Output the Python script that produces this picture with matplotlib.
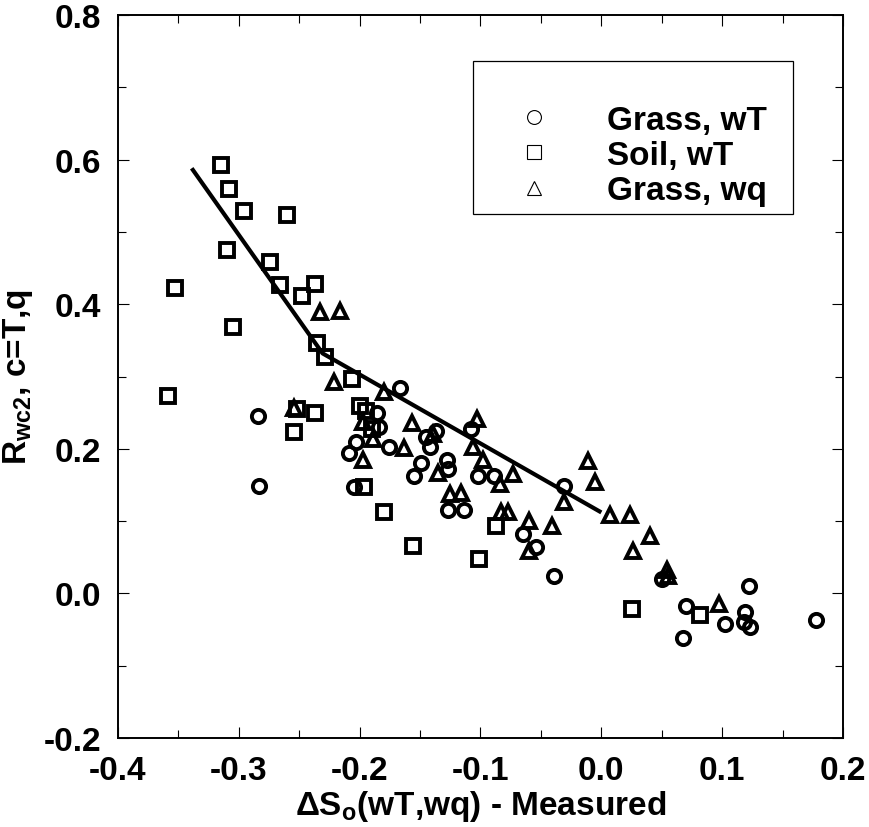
import matplotlib
matplotlib.use("Agg")
import matplotlib.pyplot as plt
from matplotlib import font_manager
from matplotlib.lines import Line2D
from matplotlib.patches import Rectangle
from matplotlib.ticker import MultipleLocator

names = {f.name for f in font_manager.fontManager.ttflist}
FONT = "Liberation Sans" if "Liberation Sans" in names else "DejaVu Sans"

plt.rcParams["mathtext.fontset"] = "custom"
plt.rcParams["mathtext.rm"] = FONT + ":bold"
plt.rcParams["mathtext.bf"] = FONT + ":bold"
plt.rcParams["mathtext.it"] = FONT + ":bold"
plt.rcParams["font.family"] = [FONT, "DejaVu Sans"]
plt.rcParams["font.weight"] = "bold"

# Grass, wT (circles)
grass_wT_x = [-0.284, -0.283, -0.167, -0.205, -0.203, -0.209, -0.186, -0.184, -0.176,
              -0.145, -0.137, -0.142, -0.149, -0.155, -0.128, -0.127, -0.108, -0.102,
              -0.089, -0.127, -0.114, -0.065, -0.054, -0.039, -0.031, 0.050, 0.070,
              0.068, 0.102, 0.122, 0.119, 0.118, 0.123, 0.178]
grass_wT_y = [0.246, 0.148, 0.284, 0.147, 0.210, 0.194, 0.250, 0.230, 0.202,
              0.217, 0.224, 0.203, 0.181, 0.162, 0.185, 0.172, 0.227, 0.162,
              0.162, 0.116, 0.116, 0.082, 0.064, 0.024, 0.149, 0.020, -0.018,
              -0.062, -0.042, 0.010, -0.026, -0.039, -0.046, -0.037]

# Soil, wT (squares)
soil_wT_x = [-0.315, -0.308, -0.296, -0.260, -0.310, -0.274, -0.266, -0.248, -0.237,
             -0.353, -0.305, -0.235, -0.229, -0.206, -0.359, -0.252, -0.237, -0.254,
             -0.200, -0.195, -0.190, -0.196, -0.180, -0.156, -0.101, -0.087, 0.025, 0.082]
soil_wT_y = [0.592, 0.559, 0.529, 0.524, 0.475, 0.459, 0.426, 0.412, 0.428,
             0.423, 0.368, 0.347, 0.327, 0.297, 0.273, 0.255, 0.250, 0.223,
             0.259, 0.252, 0.227, 0.147, 0.113, 0.066, 0.047, 0.093, -0.022, -0.030]

# Grass, wq (triangles)
grass_wq_x = [-0.233, -0.216, -0.221, -0.254, -0.180, -0.197, -0.189, -0.197, -0.157,
              -0.139, -0.163, -0.135, -0.125, -0.116, -0.103, -0.106, -0.098, -0.084,
              -0.073, -0.083, -0.077, -0.060, -0.041, -0.060, -0.011, -0.005, -0.031,
              0.007, 0.024, 0.040, 0.026, 0.054, 0.055, 0.097]
grass_wq_y = [0.389, 0.390, 0.292, 0.257, 0.278, 0.237, 0.213, 0.185, 0.235,
              0.220, 0.201, 0.167, 0.137, 0.139, 0.241, 0.202, 0.185, 0.151,
              0.165, 0.113, 0.112, 0.100, 0.093, 0.058, 0.183, 0.154, 0.126,
              0.108, 0.109, 0.079, 0.058, 0.033, 0.024, -0.014]

# piecewise fit line
fit_x = [-0.339, -0.2307, 0.0]
fit_y = [0.588, 0.332, 0.112]

labels = ["Grass, wT", "Soil, wT", "Grass, wq"]

FS = 24

fig = plt.figure(figsize=(8.69, 8.28), dpi=100)
ax = fig.add_axes([118 / 869, 1 - 739 / 828, 725 / 869, 723 / 828])

mk = dict(linestyle="none", markerfacecolor="none", markeredgecolor="black",
          markersize=9.5, markeredgewidth=2.8)
ax.plot(grass_wT_x, grass_wT_y, marker="o", **mk)
ax.plot(soil_wT_x, soil_wT_y, marker="s", **mk)
ax.plot(grass_wq_x, grass_wq_y, marker="^", **mk)
ax.plot(fit_x, fit_y, color="black", linewidth=3.0, solid_capstyle="butt")

ax.set_xlim(-0.4, 0.2)
ax.set_ylim(-0.2, 0.8)
ax.xaxis.set_major_locator(MultipleLocator(0.1))
ax.xaxis.set_minor_locator(MultipleLocator(0.05))
ax.yaxis.set_major_locator(MultipleLocator(0.2))
ax.yaxis.set_minor_locator(MultipleLocator(0.1))
fmt = plt.FuncFormatter(lambda v, p: f"{v:.1f}".replace("-0.0", "0.0"))
ax.xaxis.set_major_formatter(fmt)
ax.yaxis.set_major_formatter(fmt)
ax.tick_params(which="both", direction="in", top=True, right=True, width=0.8)
ax.tick_params(which="major", length=8, labelsize=FS)
ax.tick_params(which="minor", length=5.5)
ax.tick_params(axis="x", which="major", pad=12)
ax.tick_params(axis="y", which="major", pad=12)
for lab in ax.get_xticklabels() + ax.get_yticklabels():
    lab.set_fontweight("bold")
for sp in ax.spines.values():
    sp.set_linewidth(1.4)

ax.set_xlabel("\u0394S$_{\\mathrm{o}}$(wT,wq) - Measured", fontweight="bold",
              fontsize=FS, labelpad=2)
ax.set_ylabel("R$_{\\mathrm{wc2}}$, c=T,q", fontweight="bold", fontsize=FS, labelpad=6)

# legend box (drawn separately so the padding can be uneven like the original)
ax.add_patch(Rectangle((0.4897, 0.7248), 0.4414, 0.2116, transform=ax.transAxes,
                       facecolor="white", edgecolor="black", linewidth=0.9, zorder=4))

handles = [Line2D([], [], marker=m, linestyle="none", markerfacecolor="none",
                  markeredgecolor="black", markersize=10, markeredgewidth=0.8)
           for m in ["o", "s", "^"]]
leg = ax.legend(handles, labels, loc="upper left",
                bbox_to_anchor=(0.490, 0.936, 0.441, 0.0), mode="expand",
                prop={"family": FONT, "weight": "bold", "size": FS},
                frameon=False, borderpad=1.3, labelspacing=0.13, handletextpad=1.67,
                handlelength=1.05, borderaxespad=0)
leg.set_zorder(5)

fig.savefig("out.png", dpi=100)
